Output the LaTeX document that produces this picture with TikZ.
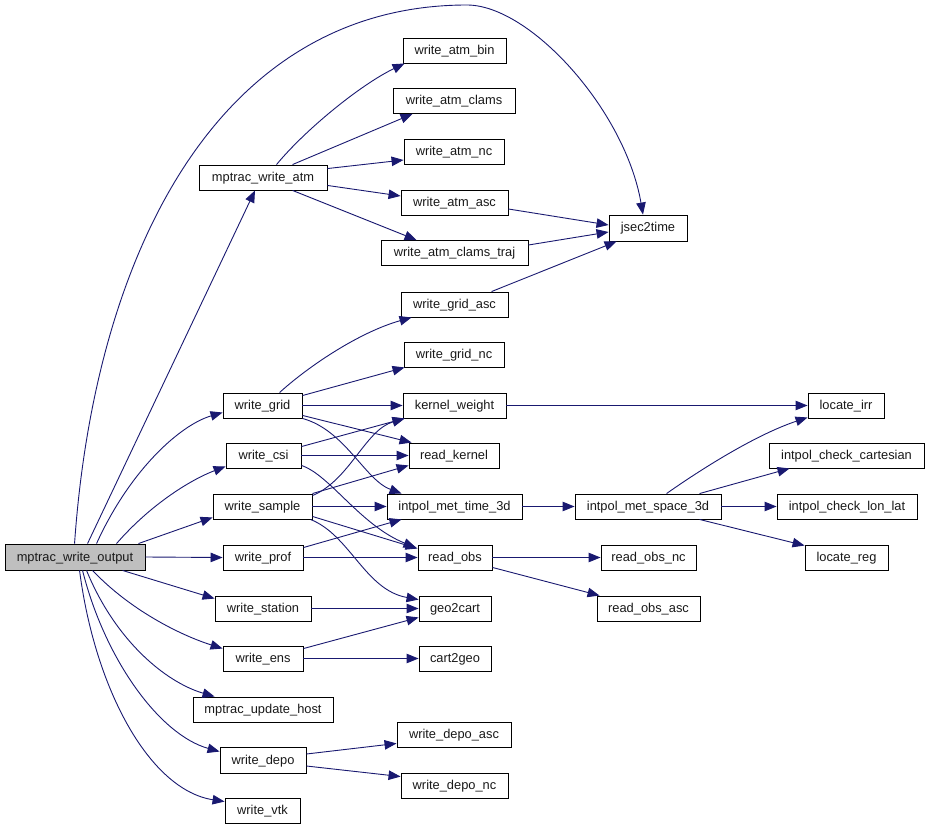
\documentclass[tikz,border=0pt]{standalone}
\usepackage{fontspec}
\setmainfont{Liberation Sans}
\usetikzlibrary{arrows.meta,calc}
\definecolor{edgeblue}{HTML}{191970}
\definecolor{mainfill}{HTML}{BFBFBF}
\tikzset{
  box/.style={draw=black,line width=0.9pt,fill=white,inner sep=0pt,minimum height=25pt,
    text height=10.5pt,text depth=2.5pt,
    font=\fontsize{12.85}{15}\selectfont,text=black!90},
  mainbox/.style={box,fill=mainfill},
  conn/.style={draw=edgeblue,line width=0.9pt,-{Triangle[length=12pt,width=9.5pt]}},
}
\begin{document}
\begin{tikzpicture}[x=1pt,y=-1pt]
\useasboundingbox (0,0) rectangle (929,829);
% nodes
\node[mainbox,minimum width=140pt,minimum height=26pt] (O) at (75,557) {mptrac\_write\_output};
\node[box,minimum width=128pt] (atm) at (263,177.5) {mptrac\_write\_atm};
\node[box,minimum width=103pt] (bin) at (454.5,50.5) {write\_atm\_bin};
\node[box,minimum width=122pt] (clams) at (454,101) {write\_atm\_clams};
\node[box,minimum width=100pt] (atmnc) at (454,152) {write\_atm\_nc};
\node[box,minimum width=107pt] (atmasc) at (454.5,203) {write\_atm\_asc};
\node[box,minimum width=147pt] (traj) at (454.5,253) {write\_atm\_clams\_traj};
\node[box,minimum width=78pt,minimum height=26pt] (jsec) at (648,228) {jsec2time};
\node[box,minimum width=107pt] (gridasc) at (454.5,304.5) {write\_grid\_asc};
\node[box,minimum width=100pt] (gridnc) at (454,354.5) {write\_grid\_nc};
\node[box,minimum width=103pt] (kw) at (454.5,405.5) {kernel\_weight};
\node[box,minimum width=76pt] (irr) at (846,405.5) {locate\_irr};
\node[box,minimum width=79pt] (grid) at (262.5,405.5) {write\_grid};
\node[box,minimum width=75pt] (csi) at (263.5,455.5) {write\_csi};
\node[box,minimum width=90pt] (rk) at (454,455.5) {read\_kernel};
\node[box,minimum width=99pt] (sample) at (262.5,506.5) {write\_sample};
\node[box,minimum width=135pt] (imt) at (454.5,506.5) {intpol\_met\_time\_3d};
\node[box,minimum width=146pt] (ims) at (648,506.5) {intpol\_met\_space\_3d};
\node[box,minimum width=155pt] (icc) at (846.5,455.5) {intpol\_check\_cartesian};
\node[box,minimum width=140pt] (ill) at (847,506.5) {intpol\_check\_lon\_lat};
\node[box,minimum width=83pt] (reg) at (846.5,557.5) {locate\_reg};
\node[box,minimum width=80pt] (prof) at (263,557.5) {write\_prof};
\node[box,minimum width=74pt] (ro) at (455,557.5) {read\_obs};
\node[box,minimum width=95pt] (ronc) at (648.5,557.5) {read\_obs\_nc};
\node[box,minimum width=103pt] (roasc) at (648.5,608.5) {read\_obs\_asc};
\node[box,minimum width=96pt] (station) at (263,608.5) {write\_station};
\node[box,minimum width=72pt] (geo) at (455,608.5) {geo2cart};
\node[box,minimum width=80pt] (ens) at (263,658.5) {write\_ens};
\node[box,minimum width=72pt] (cart) at (455,658.5) {cart2geo};
\node[box,minimum width=140pt] (host) at (263,709.5) {mptrac\_update\_host};
\node[box,minimum width=86pt,minimum height=26pt] (depo) at (263,760) {write\_depo};
\node[box,minimum width=114pt] (depoasc) at (454,734.5) {write\_depo\_asc};
\node[box,minimum width=107pt] (deponc) at (454.5,785.5) {write\_depo\_nc};
\node[box,minimum width=75pt] (vtk) at (262.5,810.5) {write\_vtk};
% edges from mptrac_write_output
\draw[conn] ($(O.north west)+(70,0)$) .. controls (95,250) and (220,5) .. (467,5)
  .. controls (530,5) and (625,110) .. ($(jsec.north)+(-5,0)$);
\draw[conn] ($(O.north west)+(83,0)$) -- ($(atm.south)+(-8,0)$);
\draw[conn] ($(O.north west)+(92,0)$) .. controls (130,470) and (180,425) .. ($(grid.west)+(0,7)$);
\draw[conn] ($(O.north west)+(112,0)$) .. controls (150,505) and (190,480) .. ($(csi.south west)+(0,-2)$);
\draw[conn] ($(O.north east)+(-7,0)$) -- ($(sample.south west)+(0,-2)$);
\draw[conn] (O.east) -- (prof.west);
\draw[conn] ($(O.south west)+(118,0)$) -- ($(station.north west)+(0,3)$);
\draw[conn] ($(O.south west)+(88,0)$) .. controls (130,610) and (180,635) .. ($(ens.north west)+(0,3)$);
\draw[conn] ($(O.south west)+(82,0)$) .. controls (115,640) and (165,682) .. ($(host.north west)+(22,0)$);
\draw[conn] ($(O.south west)+(78,0)$) .. controls (105,660) and (160,735) .. ($(depo.north west)+(0,5)$);
\draw[conn] ($(O.south west)+(75,0)$) .. controls (95,690) and (150,790) .. ($(vtk.north west)+(0,4)$);
% mptrac_write_atm
\draw[conn] ($(atm.north west)+(78,0)$) .. controls (305,130) and (360,85) .. ($(bin.south west)+(2,0)$);
\draw[conn] ($(atm.north west)+(94,0)$) -- ($(clams.south west)+(20,0)$);
\draw[conn] ($(atm.north east)+(0,4)$) -- ($(atmnc.west)+(0,8)$);
\draw[conn] ($(atm.south east)+(0,-5)$) -- ($(atmasc.west)+(0,-7)$);
\draw[conn] ($(atm.south west)+(94,0)$) -- ($(traj.north west)+(36,0)$);
% to jsec2time
\draw[conn] ($(atmasc.east)+(0,6)$) -- ($(jsec.west)+(0,-3)$);
\draw[conn] ($(traj.east)+(0,-8)$) -- ($(jsec.west)+(0,4)$);
\draw[conn] ($(gridasc.north west)+(91,0)$) -- ($(jsec.south west)+(8,0)$);
% write_grid
\draw[conn] ($(grid.north west)+(57,0)$) .. controls (310,365) and (360,332) .. ($(gridasc.south west)+(11,0)$);
\draw[conn] ($(grid.north east)+(0,3)$) -- ($(gridnc.south west)+(1,0)$);
\draw[conn] (grid.east) -- (kw.west);
\draw[conn] ($(grid.south east)+(0,-3)$) -- ($(rk.north west)+(3,0)$);
\draw[conn] ($(grid.south east)+(0,0)$) .. controls (345,430) and (365,480) .. ($(imt.north west)+(15,0)$);
% write_csi
\draw[conn] ($(csi.north east)+(0,4)$) -- ($(kw.south west)+(2,0)$);
\draw[conn] (csi.east) -- (rk.west);
\draw[conn] ($(csi.south east)+(0,-3)$) .. controls (330,475) and (360,525) .. ($(ro.north west)+(-2,3)$);
% write_sample
\draw[conn] ($(sample.north east)+(0,2)$) .. controls (350,480) and (365,430) .. ($(kw.south west)+(2,0)$);
\draw[conn] ($(sample.north east)+(0,0)$) -- ($(rk.south west)+(0,-3)$);
\draw[conn] (sample.east) -- (imt.west);
\draw[conn] ($(sample.south east)+(0,-3)$) -- ($(ro.north west)+(0,4)$);
\draw[conn] ($(sample.south east)+(-2,0)$) .. controls (350,535) and (365,590) .. ($(geo.north west)+(0,4)$);
% write_prof
\draw[conn] ($(prof.north east)+(0,3)$) -- ($(imt.south west)+(15,0)$);
\draw[conn] (prof.east) -- (ro.west);
% station, ens
\draw[conn] (station.east) -- (geo.west);
\draw[conn] ($(ens.north east)+(0,3)$) -- ($(geo.south west)+(0,-4)$);
\draw[conn] (ens.east) -- (cart.west);
% read_obs
\draw[conn] (ro.east) -- (ronc.west);
\draw[conn] ($(ro.south east)+(0,-3)$) -- ($(roasc.north west)+(3,0)$);
% others
\draw[conn] (kw.east) -- (irr.west);
\draw[conn] (imt.east) -- (ims.west);
\draw[conn] ($(ims.north west)+(92,0)$) .. controls (700,470) and (755,435) .. ($(irr.south west)+(0,-1)$);
\draw[conn] ($(ims.north west)+(125,0)$) -- ($(icc.south west)+(21,0)$);
\draw[conn] (ims.east) -- (ill.west);
\draw[conn] ($(ims.south west)+(125,0)$) -- ($(reg.north west)+(0,1)$);
% write_depo
\draw[conn] ($(depo.east)+(0,-6)$) -- ($(depoasc.south west)+(0,-4)$);
\draw[conn] ($(depo.east)+(0,6)$) -- ($(deponc.north west)+(0,4)$);
\end{tikzpicture}
\end{document}
